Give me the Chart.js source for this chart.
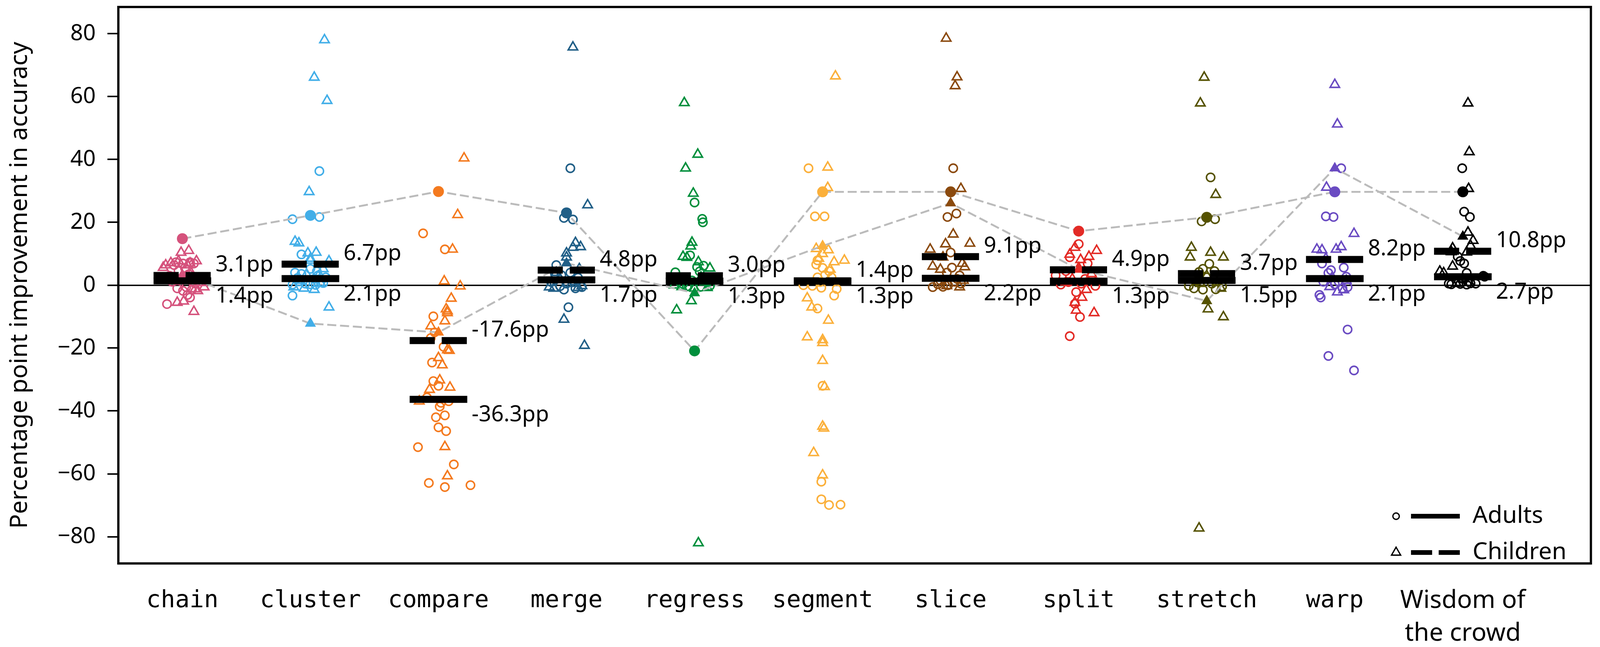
<!DOCTYPE html>
<html><head><meta charset="utf-8">
<script src="https://cdn.jsdelivr.net/npm/chart.js@4/dist/chart.umd.min.js"></script>
<style>html,body{margin:0;padding:0;background:#fff;overflow:hidden;}#wrap{position:fixed;left:0;top:0;width:100vw;height:100vh;}</style>
</head><body><div id="wrap"><canvas id="c"></canvas></div>
<script>
const categories = ['chain','cluster','compare','merge','regress','segment','slice','split','stretch','warp',['Wisdom of','the crowd']];
const yTicks = [-80,-60,-40,-20,0,20,40,60,80];
const adultMeans = [1.4,2.1,-36.3,1.7,1.3,1.3,2.2,1.3,1.5,2.1,2.7];
const childMeans = [3.1,6.7,-17.6,4.8,3.0,1.4,9.1,4.9,3.7,8.2,10.8];
const adultHighlight = [14.8,22.2,29.8,23.0,-20.9,29.7,29.7,17.2,21.6,29.7,29.7];
const childHighlight = [3.3,-12.2,-15.0,7.0,-2.5,12.5,26.1,5.0,-5.0,37.2,15.5];

const adultValues = [
 [7.3,6.9,7.3,6.9,6.4,-6.0,-3.9,-3.1,-1.0,-0.6,-1.4,-1.8,1.1,2.0,3.5,0.5,3.0,5.5,4.5,2.5],
 [36.3,21.0,21.7,-3.3,9.8,4.0,3.6,3.1,1.1,0.7,0.2,0.3,1.2,4.4,5.2,2.0,0.5,2.5,2.3,0.1],
 [16.5,11.4,-9.9,-16.8,-24.6,-30.5,-38.6,-42.0,-45.2,-46.4,-51.5,-57.0,-62.9,-64.2,-63.6,-41.4,-37.4,-35.7,-36.9,-19.6,-15.0,-32.0],
 [37.2,21.4,20.9,-7.0,6.4,3.6,3.2,-0.6,-1.4,1.5,0.5,2.4,1.0,-1.0,-0.3,4.0],
 [26.3,21.1,20.0,9.5,4.1,6.2,5.8,4.4,-0.4,0.4,-0.5,1.0,1.5,-0.2],
 [37.2,21.9,21.9,6.6,7.9,4.5,3.3,2.5,2.5,0.0,-0.2,-0.8,-1.2,-3.3,-7.4,-32.0,-62.5,-68.1,-69.9,-69.8,5.5,1.0],
 [37.2,21.7,22.8,10.4,5.6,4.0,3.1,1.1,-0.6,-0.5,0.3,0.5,0.0,2.0,1.5],
 [13.1,8.9,6.9,3.1,0.2,-2.2,-0.2,-5.9,-10.1,-16.2,1.0,2.0,0.5,4.5,3.0],
 [34.3,20.3,21.0,6.8,5.2,4.2,4.5,-1.0,-1.4,-1.3,-0.2,-0.4,2.5,0.5,1.5],
 [37.2,21.9,21.7,6.9,5.6,3.9,2.7,1.1,1.2,-3.1,-3.9,-0.6,-14.1,-22.5,-27.1,0.3,-1.0,4.8],
 [37.2,23.4,21.7,9.1,6.9,7.7,3.9,2.7,3.0,0.5,0.4,0.6,0.3,0.2,0.5,2.0]
];
const adultJitter = [
 [-0.05,0.005,0.06,0.09,-0.065,-0.12,0.06,0.04,-0.04,0.03,0.075,0.005,-0.08,-0.02,0.05,0.1,-0.1,0.02,-0.03,0.08],
 [0.07,-0.14,0.07,-0.14,-0.07,-0.12,-0.07,0.06,0.08,0.1,-0.14,0.0,-0.09,0.05,0.0,0.03,-0.04,0.12,-0.1,0.04],
 [-0.12,0.05,-0.04,-0.06,-0.05,-0.04,0.01,-0.02,0.0,0.06,-0.16,0.12,-0.075,0.05,0.25,0.05,0.02,-0.09,0.08,0.04,-0.03,0.0],
 [0.03,-0.02,0.05,0.015,-0.08,-0.09,-0.04,0.12,-0.02,0.05,0.0,0.09,-0.12,0.07,-0.05,0.03],
 [0.0,0.06,0.065,-0.035,-0.15,0.07,0.02,0.04,-0.06,-0.09,0.05,0.1,-0.02,0.12],
 [-0.11,-0.06,0.015,-0.05,-0.04,0.05,0.02,-0.04,0.07,-0.15,-0.08,-0.01,0.11,0.09,-0.04,0.0,-0.01,-0.01,0.05,0.14,0.0,-0.02],
 [0.02,-0.025,0.045,0.0,0.01,-0.03,0.07,0.03,-0.14,-0.06,-0.1,0.08,-0.02,0.05,-0.08],
 [0.0,-0.07,0.07,-0.18,-0.14,-0.02,0.13,-0.03,0.01,-0.07,-0.08,0.05,0.02,-0.1,0.1],
 [0.03,-0.04,0.065,0.02,-0.03,-0.06,0.06,-0.1,-0.03,0.07,-0.14,0.12,0.0,0.04,-0.07],
 [0.05,-0.07,-0.01,-0.1,0.07,-0.05,0.09,-0.09,0.03,-0.12,-0.11,0.1,0.1,-0.05,0.15,0.0,0.06,-0.03],
 [-0.005,0.01,0.055,-0.04,0.01,-0.02,0.03,0.17,0.16,-0.11,-0.02,0.06,-0.09,0.03,0.1,0.0]
];
const childValues = [
 [10.4,11.0,7.7,6.4,7.1,5.6,7.7,7.0,6.4,-0.6,-1.8,-5.5,-5.1,-8.4,2.0,-1.2,0.8,2.2,3.8,1.5],
 [78.0,66.1,58.7,29.7,13.9,13.4,10.2,10.4,7.7,7.9,-7.0,8.5,5.2,-1.4,-1.0,-0.6,1.5,0.5,2.8,3.5],
 [40.4,22.4,11.4,1.3,-0.3,-4.2,-8.2,-8.8,-11.4,-13.0,-20.6,-20.8,-23.1,-25.4,-30.2,-32.5,-33.2,-36.9,-51.4,-60.7,-7.6],
 [75.7,25.5,13.5,12.2,12.0,10.2,8.9,5.2,-0.6,-1.0,-0.8,-0.2,-10.9,-19.2,2.0,0.5,4.0],
 [58.0,41.6,37.2,29.2,13.6,12.4,9.1,8.8,7.4,5.4,0.0,-5.0,-7.9,-82.0,1.0,-0.5,-1.0,-0.8,2.5],
 [66.5,37.5,31.0,11.6,11.2,10.0,7.4,7.9,-4.1,-7.0,-11.2,-16.5,-17.4,-18.3,-24.0,-32.3,-44.9,-45.5,-53.3,-60.4,8.5,5.0],
 [78.5,66.2,63.4,30.7,16.2,13.1,13.3,11.4,8.9,6.0,6.9,5.0,5.8,-0.6,-0.2,1.5],
 [12.0,11.0,9.1,9.8,8.1,3.6,-1.4,-3.9,-5.5,-8.0,-8.8,2.0,5.5,1.0],
 [66.1,57.9,28.8,12.0,8.9,10.4,8.9,-7.6,-10.1,-77.3,-1.0,0.5,1.0,3.0],
 [63.8,51.2,31.1,16.4,11.4,11.2,11.4,12.2,8.5,-2.2,-1.5,-0.5,1.5,2.5],
 [57.9,42.4,30.7,16.8,14.2,12.6,11.8,10.6,10.5,4.4,6.0,3.9,0.5,0.8,2.0]
];
const childJitter = [
 [-0.01,0.05,0.11,-0.13,-0.09,-0.15,-0.03,0.06,0.04,0.17,0.12,-0.04,0.01,0.09,0.13,0.1,0.14,-0.11,0.07,-0.05],
 [0.11,0.03,0.13,-0.01,-0.12,-0.09,-0.02,0.045,0.145,0.0,0.145,0.0,0.1,0.03,-0.05,-0.13,-0.08,0.08,0.06,-0.03],
 [0.2,0.15,0.11,0.045,0.17,0.1,0.07,0.07,0.05,-0.06,0.07,0.085,0.0,0.03,0.01,0.09,-0.07,-0.15,0.05,0.07,0.06],
 [0.05,0.165,0.07,0.11,0.05,0.0,0.0,0.1,-0.135,-0.1,0.09,0.12,-0.02,0.14,-0.05,0.04,-0.08],
 [-0.08,0.025,-0.07,-0.01,-0.02,-0.03,-0.09,-0.06,0.03,0.12,-0.16,-0.025,-0.14,0.03,0.08,-0.1,0.0,0.1,0.05],
 [0.1,0.04,0.04,-0.05,0.045,0.0,0.09,0.17,-0.12,-0.085,0.045,-0.12,0.0,0.0,0.0,0.015,0.0,0.01,-0.07,0.0,-0.03,0.06],
 [-0.035,0.05,0.035,0.08,0.02,-0.04,0.15,-0.16,-0.06,-0.14,0.09,-0.08,0.11,0.07,-0.03,0.1],
 [-0.03,0.14,0.08,-0.07,0.015,0.1,0.06,0.025,-0.03,-0.02,0.12,-0.05,0.0,-0.1],
 [-0.02,-0.05,0.07,-0.12,-0.13,0.03,0.13,0.01,0.13,-0.06,0.11,-0.05,0.08,0.0],
 [0.0,0.02,-0.065,0.15,-0.14,-0.1,0.01,0.05,-0.07,0.02,0.07,-0.04,0.09,-0.02],
 [0.04,0.05,0.045,0.04,0.08,0.06,-0.08,-0.09,0.03,-0.18,-0.08,-0.15,-0.05,0.05,0.0]
];

const colors = ['#d5527c','#42aee8','#f47a1f','#215f87','#008f3c','#fbb03b','#8b4a0e','#e32b26','#555200','#6a4bc2','#000000'];
const HALF = 0.225;
const SANS = 'Noto Sans';
const MONO = 'DejaVu Sans Mono';
// design is laid out in 4394x1657 pixels; map to the actual window
const KX = window.innerWidth / 4394, KY = window.innerHeight / 1657, KS = Math.sqrt(KX * KY);
const PX = v => v * KX, PY = v => v * KY, PS = v => v * KS;

const datasets = [];
categories.forEach((c, i) => {
  datasets.push({type:'scatter', order:5,
    data: adultValues[i].map((v,k) => ({x: i + adultJitter[i][k], y: v})),
    pointStyle:'circle', pointRadius:PS(11), pointBorderWidth:PS(4),
    pointBorderColor: colors[i], pointBackgroundColor:'rgba(0,0,0,0)'});
  datasets.push({type:'scatter', order:5,
    data: childValues[i].map((v,k) => ({x: i + childJitter[i][k], y: v})),
    pointStyle:'triangle', pointRadius:PS(14.5), pointBorderWidth:PS(4),
    pointBorderColor: colors[i], pointBackgroundColor:'rgba(0,0,0,0)'});
});
[adultHighlight, childHighlight].forEach(arr => {
  datasets.push({type:'line', order:4, data: arr.map((v,i) => ({x:i, y:v})),
    borderColor:'#bbbbbb', borderWidth:PS(5), borderDash:[PS(24),PS(10)], pointRadius:0, fill:false, tension:0});
});
datasets.push({type:'scatter', order:3, data: adultHighlight.map((v,i)=>({x:i,y:v})),
  pointStyle:'circle', pointRadius:PS(14.5), pointBorderWidth:0, pointBackgroundColor: colors, pointBorderColor: colors});
datasets.push({type:'scatter', order:3, data: childHighlight.map((v,i)=>({x:i,y:v})),
  pointStyle:'triangle', pointRadius:PS(17), pointBorderWidth:0, pointBackgroundColor: colors, pointBorderColor: colors});
categories.forEach((c, i) => {
  datasets.push({type:'line', order:1, data:[{x:i-HALF,y:adultMeans[i]},{x:i+HALF,y:adultMeans[i]}],
    borderColor:'#000', borderWidth:PY(18), borderCapStyle:'butt', pointRadius:0, fill:false});
  datasets.push({type:'line', order:1, data:[{x:i-HALF,y:childMeans[i]},{x:i+HALF,y:childMeans[i]}],
    borderColor:'#000', borderWidth:PY(18), borderCapStyle:'butt', borderDash:[PX(69),PX(19)], pointRadius:0, fill:false});
});

const framePlugin = {
  id:'frame',
  afterDatasetsDraw(chart){
    const {ctx, chartArea:a, scales:{x,y}} = chart;
    ctx.save();
    ctx.fillStyle = '#000';
    ctx.font = PS(58) + 'px "' + SANS + '"';
    ctx.textAlign = 'left';
    ctx.textBaseline = 'alphabetic';
    categories.forEach((c,i) => {
      const hi = Math.max(adultMeans[i], childMeans[i]);
      const lo = Math.min(adultMeans[i], childMeans[i]);
      const px = x.getPixelForValue(i + HALF) + PX(12);
      ctx.fillText(hi.toFixed(1) + 'pp', px, y.getPixelForValue(hi) - PY(10));
      ctx.fillText(lo.toFixed(1) + 'pp', px, y.getPixelForValue(lo) + PY(56));
    });
    // legend
    const lx = a.right - PX(535), rows = [a.bottom - PY(121), a.bottom - PY(28)];
    ctx.strokeStyle = '#000';
    ctx.lineWidth = PS(3.5);
    ctx.beginPath(); ctx.arc(lx, rows[0], PS(8.5), 0, Math.PI*2); ctx.stroke();
    const tr = PS(14);
    ctx.beginPath();
    ctx.moveTo(lx, rows[1] - tr);
    ctx.lineTo(lx + tr*0.866, rows[1] + tr*0.5);
    ctx.lineTo(lx - tr*0.866, rows[1] + tr*0.5);
    ctx.closePath(); ctx.stroke();
    ctx.lineWidth = PY(12); ctx.lineCap = 'butt';
    ctx.beginPath(); ctx.moveTo(lx + PX(41), rows[0]); ctx.lineTo(lx + PX(175), rows[0]); ctx.stroke();
    ctx.setLineDash([PX(58),PX(18)]);
    ctx.beginPath(); ctx.moveTo(lx + PX(41), rows[1]); ctx.lineTo(lx + PX(175), rows[1]); ctx.stroke();
    ctx.setLineDash([]);
    ctx.font = PS(63) + 'px "' + SANS + '"';
    ctx.textBaseline = 'middle';
    ctx.fillText('Adults', lx + PX(210), rows[0]);
    ctx.fillText('Children', lx + PX(210), rows[1]);
    // frame
    ctx.lineWidth = PS(6);
    ctx.strokeRect(a.left, a.top, a.right - a.left, a.bottom - a.top);
    ctx.restore();
  }
};

const noPad = s => { s.paddingTop = 0; s.paddingBottom = 0; s.paddingLeft = 0; s.paddingRight = 0; };

new Chart(document.getElementById('c'), {
  type:'scatter',
  data:{datasets},
  plugins:[framePlugin],
  options:{
    responsive:true, maintainAspectRatio:false,
    animation:false, events:[],
    layout:{padding:{top:PY(14), right:PX(25), left:0, bottom:0}},
    plugins:{legend:{display:false}, tooltip:{enabled:false}},
    scales:{
      x:{type:'linear', min:-0.5, max:11.0,
        grid:{display:false}, border:{display:false},
        afterBuildTicks: s => { s.ticks = categories.map((c,i)=>({value:i})); },
        afterFit: s => { s.height = PY(1657 - 1443); noPad(s); },
        ticks:{autoSkip:false, maxRotation:0, minRotation:0, padding:PY(46), color:'#000',
          callback: v => categories[v],
          font: c => (c.tick && c.tick.value === 10)
            ? {family:SANS, size:PS(66), lineHeight:PY(84) + 'px'}
            : {family:MONO, size:PS(63.5), lineHeight:PY(84) + 'px'}}
      },
      y:{type:'linear', min:-88.5, max:88.5,
        afterBuildTicks: s => { s.ticks = yTicks.map(v=>({value:v})); },
        afterFit: s => { s.width = PX(325); noPad(s); },
        border:{display:false},
        grid:{color: c => (c.tick && c.tick.value === 0) ? '#000' : 'rgba(0,0,0,0)',
              lineWidth: c => (c.tick && c.tick.value === 0) ? PS(3.5) : 0,
              tickColor:'#000', tickWidth:PS(4), tickLength:PX(30)},
        ticks:{padding:PX(32), color:'#000', font:{family:SANS, size:PS(59)},
          callback: v => String(v).replace('-', '\u2212')},
        title:{display:true, text:'Percentage point improvement in accuracy', color:'#000',
          font:{family:SANS, size:PY(62)}, padding:{top:PX(15), bottom:0}}
      }
    }
  }
});
</script></body></html>
